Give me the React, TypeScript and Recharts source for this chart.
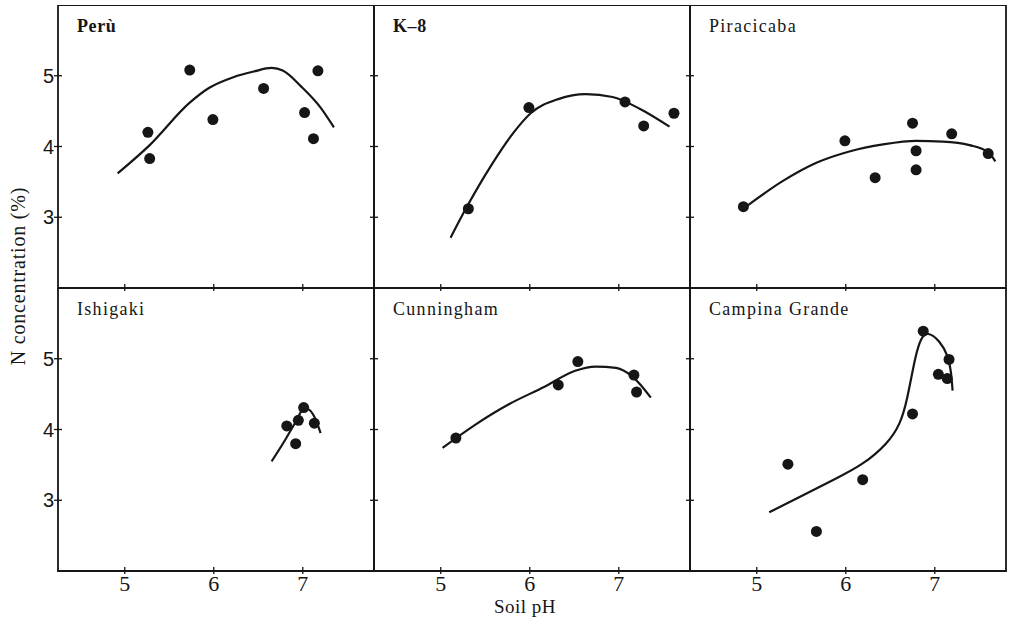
import { ReferenceArea, Scatter, ScatterChart, XAxis, YAxis } from 'recharts'

const INK = '#161616'
const SERIF = '"Liberation Serif", "DejaVu Serif", serif'
const SANS = '"Liberation Sans", "DejaVu Sans", sans-serif'

// values: soil pH vs N concentration (%)
const peruPts = [
  { ph: 5.26, n: 4.2 }, { ph: 5.28, n: 3.83 }, { ph: 5.73, n: 5.08 }, { ph: 5.99, n: 4.38 },
  { ph: 6.56, n: 4.82 }, { ph: 7.02, n: 4.48 }, { ph: 7.12, n: 4.11 }, { ph: 7.17, n: 5.07 },
]
const peruCurve = [
  { ph: 4.92, n: 3.62 }, { ph: 5.28, n: 4.02 }, { ph: 5.73, n: 4.62 }, { ph: 5.95, n: 4.83 },
  { ph: 6.22, n: 4.98 }, { ph: 6.45, n: 5.06 }, { ph: 6.65, n: 5.11 }, { ph: 6.78, n: 5.07 },
  { ph: 6.98, n: 4.85 }, { ph: 7.2, n: 4.55 }, { ph: 7.35, n: 4.27 },
]
const k8Pts = [
  { ph: 5.31, n: 3.12 }, { ph: 5.99, n: 4.55 }, { ph: 7.07, n: 4.63 }, { ph: 7.28, n: 4.29 },
  { ph: 7.62, n: 4.47 },
]
const k8Curve = [
  { ph: 5.11, n: 2.71 }, { ph: 5.29, n: 3.14 }, { ph: 5.56, n: 3.72 }, { ph: 5.82, n: 4.2 },
  { ph: 6.01, n: 4.47 }, { ph: 6.32, n: 4.67 }, { ph: 6.63, n: 4.74 }, { ph: 6.93, n: 4.7 },
  { ph: 7.24, n: 4.53 }, { ph: 7.57, n: 4.28 },
]
const piraPts = [
  { ph: 4.85, n: 3.15 }, { ph: 5.99, n: 4.08 }, { ph: 6.33, n: 3.56 }, { ph: 6.75, n: 4.33 },
  { ph: 6.79, n: 3.94 }, { ph: 6.79, n: 3.67 }, { ph: 7.19, n: 4.18 }, { ph: 7.6, n: 3.9 },
]
const piraCurve = [
  { ph: 4.88, n: 3.15 }, { ph: 5.29, n: 3.51 }, { ph: 5.67, n: 3.77 }, { ph: 6.04, n: 3.93 },
  { ph: 6.42, n: 4.03 }, { ph: 6.79, n: 4.08 }, { ph: 7.09, n: 4.07 }, { ph: 7.39, n: 4.02 },
  { ph: 7.6, n: 3.92 }, { ph: 7.68, n: 3.79 },
]
const ishiPts = [
  { ph: 6.82, n: 4.05 }, { ph: 6.92, n: 3.8 }, { ph: 6.95, n: 4.13 }, { ph: 7.01, n: 4.31 },
  { ph: 7.13, n: 4.09 },
]
const ishiCurve = [
  { ph: 6.65, n: 3.55 }, { ph: 6.81, n: 3.87 }, { ph: 6.93, n: 4.13 }, { ph: 7.0, n: 4.28 },
  { ph: 7.05, n: 4.29 }, { ph: 7.13, n: 4.18 }, { ph: 7.2, n: 3.95 },
]
const cunnPts = [
  { ph: 5.17, n: 3.88 }, { ph: 6.32, n: 4.63 }, { ph: 6.54, n: 4.96 }, { ph: 7.17, n: 4.77 },
  { ph: 7.2, n: 4.53 },
]
const cunnCurve = [
  { ph: 5.02, n: 3.74 }, { ph: 5.39, n: 4.07 }, { ph: 5.77, n: 4.36 }, { ph: 6.16, n: 4.6 },
  { ph: 6.51, n: 4.83 }, { ph: 6.74, n: 4.89 }, { ph: 6.97, n: 4.87 }, { ph: 7.16, n: 4.74 },
  { ph: 7.36, n: 4.45 },
]
const campPts = [
  { ph: 5.35, n: 3.51 }, { ph: 5.67, n: 2.56 }, { ph: 6.19, n: 3.29 }, { ph: 6.75, n: 4.22 },
  { ph: 6.87, n: 5.39 }, { ph: 7.04, n: 4.78 }, { ph: 7.16, n: 4.99 }, { ph: 7.14, n: 4.72 },
]
const campCurve = [
  { ph: 5.14, n: 2.83 }, { ph: 5.52, n: 3.07 }, { ph: 5.88, n: 3.3 }, { ph: 6.19, n: 3.52 },
  { ph: 6.45, n: 3.8 }, { ph: 6.6, n: 4.08 }, { ph: 6.69, n: 4.45 }, { ph: 6.78, n: 5.0 },
  { ph: 6.85, n: 5.28 }, { ph: 6.93, n: 5.35 }, { ph: 7.05, n: 5.24 }, { ph: 7.14, n: 5.04 },
  { ph: 7.18, n: 4.82 }, { ph: 7.2, n: 4.55 },
]

const xTicks = [5, 6, 7]
const yTicks = [3, 4, 5]
const X_DOMAIN: [number, number] = [4.25, 7.8]
const Y_DOMAIN: [number, number] = [2, 6]

const panels = [
  { title: 'Perù', bold: true, pts: peruPts, curve: peruCurve },
  { title: 'K–8', bold: true, pts: k8Pts, curve: k8Curve },
  { title: 'Piracicaba', bold: false, pts: piraPts, curve: piraCurve },
  { title: 'Ishigaki', bold: false, pts: ishiPts, curve: ishiCurve },
  { title: 'Cunningham', bold: false, pts: cunnPts, curve: cunnCurve },
  { title: 'Campina Grande', bold: false, pts: campPts, curve: campCurve },
]

const LEFT = 58
const TOP = 5
const PW = 316
const PH = 283
const AX_L = 60
const AX_R = 30
const AX_B = 40

const dot = (p: any) => <circle cx={p.cx} cy={p.cy} r={5.5} fill={INK} />
const none = () => <g />

const xTick = (label: boolean) => (p: any) => (
  <g>
    <line x1={p.x} x2={p.x} y1={p.y - 4} y2={p.y + 3} stroke={INK} strokeWidth={1.3} />
    {label && (
      <text x={p.x} y={p.y + 20} textAnchor="middle" fontSize={22} fill={INK} fontFamily={SERIF}>
        {p.payload.value}
      </text>
    )}
  </g>
)

const yTick = (label: boolean) => (p: any) => (
  <g>
    <line x1={p.x - 4} x2={p.x + 4} y1={p.y} y2={p.y} stroke={INK} strokeWidth={1.3} />
    {label && (
      <text x={p.x - 4} y={p.y + 7} textAnchor="end" fontSize={20} fill={INK} fontFamily={SANS}>
        {p.payload.value}
      </text>
    )}
  </g>
)

function Panel({ idx }: { idx: number }) {
  const p = panels[idx]
  const col = idx % 3
  const row = Math.floor(idx / 3)
  const joint = idx === 5 ? 'natural' : 'monotoneX'
  return (
    <div style={{ position: 'absolute', left: LEFT + col * PW - AX_L, top: TOP + row * PH }}>
      <ScatterChart width={AX_L + PW + AX_R} height={PH + AX_B} margin={{ top: 0, right: 0, bottom: 0, left: 0 }}>
        <XAxis
          type="number" dataKey="ph" domain={X_DOMAIN} ticks={xTicks} allowDataOverflow
          height={AX_B} axisLine={false} tickLine={false} tickSize={0} tickMargin={0}
          tick={xTick(row === 1)} interval={0}
        />
        <YAxis
          yAxisId="l" type="number" dataKey="n" domain={Y_DOMAIN} ticks={yTicks} allowDataOverflow
          width={AX_L} axisLine={false} tickLine={false} tickSize={0} tickMargin={0}
          tick={yTick(col === 0)} interval={0}
        />
        <YAxis
          yAxisId="r" orientation="right" type="number" dataKey="n" domain={Y_DOMAIN} ticks={yTicks}
          width={AX_R} axisLine={false} tickLine={false} tickSize={0} tickMargin={0}
          tick={yTick(false)} interval={0}
        />
        <ReferenceArea
          yAxisId="l" x1={X_DOMAIN[0]} x2={X_DOMAIN[1]} y1={Y_DOMAIN[0]} y2={Y_DOMAIN[1]}
          fill="none" fillOpacity={0} stroke={INK} strokeWidth={1.8}
        />
        <Scatter
          yAxisId="l" data={p.curve} shape={none} line={{ stroke: INK, strokeWidth: 2.2 }}
          lineType="joint" lineJointType={joint} isAnimationActive={false}
        />
        <Scatter yAxisId="l" data={p.pts} shape={dot} isAnimationActive={false} />
      </ScatterChart>
      <div
        style={{
          position: 'absolute', left: AX_L + 19, top: 11, fontFamily: SERIF, fontSize: 18,
          letterSpacing: p.bold ? 0.6 : 1.3, fontWeight: p.bold ? 'bold' : 'normal', color: INK,
          whiteSpace: 'nowrap',
        }}
      >
        {p.title}
      </div>
    </div>
  )
}

export default function App() {
  return (
    <div style={{ position: 'absolute', left: 0, top: 0, width: 1015, height: 627, background: '#fff', overflow: 'hidden' }}>
      {panels.map((_, i) => (
        <Panel key={i} idx={i} />
      ))}
      <div
        style={{
          position: 'absolute', left: 18, top: 276, transform: 'translate(-50%, -50%) rotate(-90deg)',
          fontFamily: SERIF, fontSize: 20, letterSpacing: 0.8, color: INK, whiteSpace: 'nowrap',
        }}
      >
        N concentration (%)
      </div>
      <div
        style={{
          position: 'absolute', left: 525, top: 607, transform: 'translate(-50%, -50%)',
          fontFamily: SERIF, fontSize: 19, letterSpacing: 0.5, color: INK, whiteSpace: 'nowrap',
        }}
      >
        Soil pH
      </div>
    </div>
  )
}
